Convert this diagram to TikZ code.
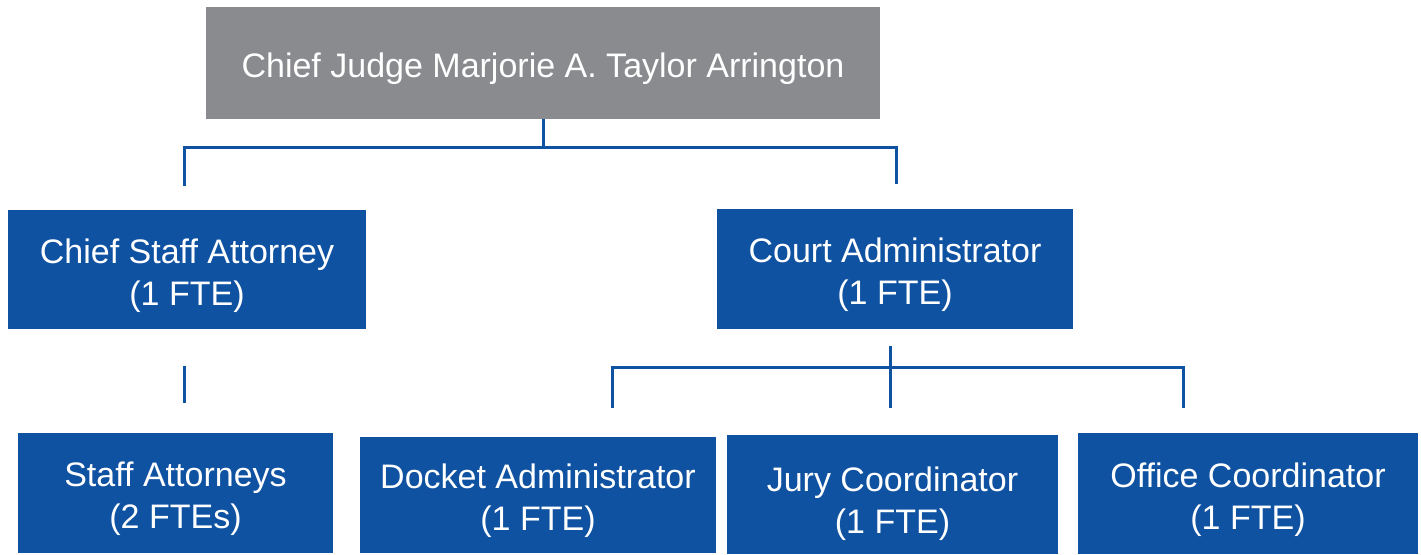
\documentclass[tikz,border=0pt]{standalone}
\usepackage{fontspec}
\setmainfont{Liberation Sans}
\definecolor{boxblue}{HTML}{1052A2}
\definecolor{judgegray}{HTML}{8A8B8F}
\tikzset{
  post/.style={rectangle, fill=boxblue, text=white, align=center, inner sep=0pt,
    font=\fontsize{25.5pt}{31.5pt}\selectfont,
    execute at begin node={\rule{0pt}{#1}}},
  post/.default=59pt,
  link/.style={draw=boxblue, line width=2.25pt},
}
\begin{document}
\begin{tikzpicture}[x=0.75pt,y=-0.75pt]
  \useasboundingbox (0,0) rectangle (1421,555);
  \node[post=27.5pt, fill=judgegray, minimum width=505.5pt, minimum height=84pt] (judge) at (543,63)
    {Chief Judge Marjorie A. Taylor Arrington};
  \node[post, minimum width=268.5pt, minimum height=89.25pt] (csa) at (187,269.5)
    {Chief Staff Attorney\\(1 FTE)};
  \node[post, minimum width=267pt, minimum height=90pt] (ca) at (895,269)
    {Court Administrator\\(1 FTE)};
  \node[post, minimum width=236.25pt, minimum height=90pt] (sa) at (175.5,493)
    {Staff Attorneys\\(2 FTEs)};
  \node[post, minimum width=267pt, minimum height=87pt] (da) at (538,495)
    {Docket Administrator\\(1 FTE)};
  \node[post=63.5pt, minimum width=248.25pt, minimum height=89.25pt] (jc) at (892.5,494.5)
    {Jury Coordinator\\(1 FTE)};
  \node[post, minimum width=255pt, minimum height=90.75pt] (oc) at (1248,493.5)
    {Office Coordinator\\(1 FTE)};
  % first level bus
  \coordinate (busl) at (184,148);
  \coordinate (busr) at (896,148);
  \coordinate (dropl) at (184,186);
  \coordinate (dropr) at (896,184);
  \draw[link] (judge.south) -- (judge.south |- busl);
  \draw[link] (dropl) -- (busl) -- (busr) -- (dropr);
  % under the chief staff attorney
  \coordinate (satop) at (184,366);
  \coordinate (sabot) at (184,403);
  \draw[link] (satop) -- (sabot);
  % under the court administrator
  \coordinate (catop) at (890,346);
  \coordinate (cabot) at (890,408);
  \coordinate (busa) at (612,368);
  \coordinate (busb) at (1183,368);
  \coordinate (dropa) at (612,408);
  \coordinate (dropb) at (1183,408);
  \draw[link] (catop) -- (cabot);
  \draw[link] (dropa) -- (busa) -- (busb) -- (dropb);
\end{tikzpicture}
\end{document}
